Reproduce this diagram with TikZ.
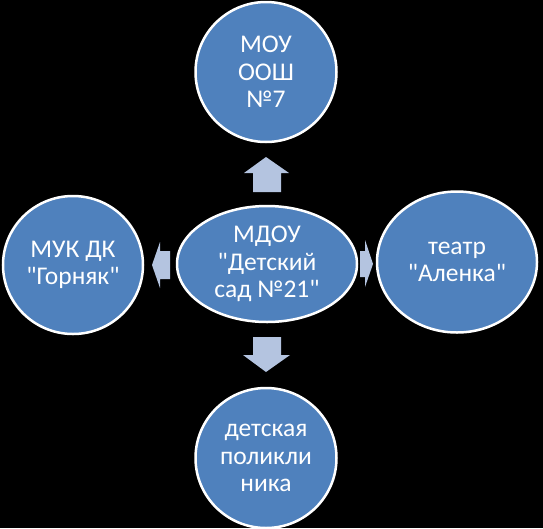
\documentclass[tikz,border=0pt]{standalone}
\usepackage{fontspec}
\setmainfont{Carlito}[Ligatures=TeXOff]
\usetikzlibrary{shapes.geometric}
\definecolor{nodeblue}{RGB}{79,129,189}
\definecolor{arrowblue}{RGB}{180,196,224}
\tikzset{
  bubble/.style={ellipse, draw=white, line width=2.5pt, fill=nodeblue, text=white,
    inner sep=0pt, align=center, font=\fontsize{25.5}{27.5}\selectfont},
  blockarrow/.style={fill=arrowblue, draw=none}
}
\begin{document}
\begin{tikzpicture}[x=1pt,y=-1pt]
\fill[black] (0,0) rectangle (543,528);
\useasboundingbox (0,0) rectangle (543,528);
\node[bubble, minimum width=180pt, minimum height=116pt] (c) at (267,264) {МДОУ\\"Детский\\сад №21"};
\node[bubble, minimum width=141pt, minimum height=140pt] (t) at (266,72) {МОУ\\ООШ\\№7};
\node[bubble, minimum width=140pt, minimum height=138pt] (l) at (73,265) {МУК ДК\\"Горняк"};
\node[bubble, minimum width=160pt, minimum height=141pt] (r) at (457,262) {театр\\"Аленка"};
\node[bubble, minimum width=141pt, minimum height=140pt] (b) at (266,458) {детская\\поликли\\ника};
% up arrow
\fill[blockarrow] (253,192) -- (253,173) -- (244,173) -- (266,157) -- (289,173) -- (281,173) -- (281,192) -- cycle;
% down arrow
\fill[blockarrow] (253,337) -- (253,355) -- (243,355) -- (266,372) -- (290,355) -- (281,355) -- (281,337) -- cycle;
% left arrow
\fill[blockarrow] (170,251) -- (160,251) -- (160,242) -- (152,265) -- (160,288) -- (160,279) -- (170,279) -- cycle;
% right arrow
\fill[blockarrow] (360,251) -- (365,251) -- (365,240) -- (373,264) -- (365,287) -- (365,277) -- (360,277) -- cycle;
\end{tikzpicture}
\end{document}
